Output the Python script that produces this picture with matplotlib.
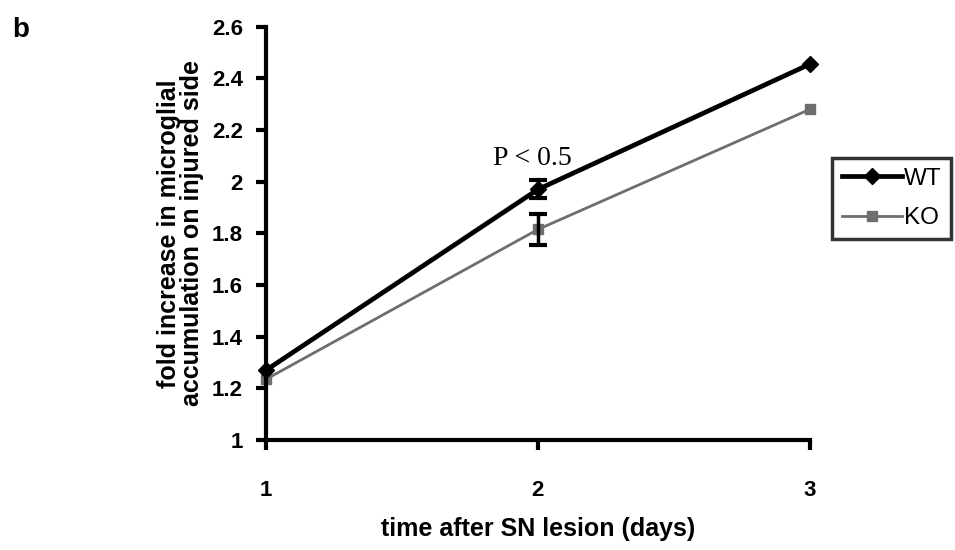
import matplotlib
matplotlib.use('Agg')
import matplotlib.pyplot as plt

# values
days = [1, 2, 3]
wt_fold = [1.27, 1.97, 2.455]
ko_fold = [1.235, 1.815, 2.28]
wt_err = [0, 0.035, 0]
ko_err = [0, 0.06, 0]
y_ticks = [1, 1.2, 1.4, 1.6, 1.8, 2, 2.2, 2.4, 2.6]
y_tick_labels = ['1', '1.2', '1.4', '1.6', '1.8', '2', '2.2', '2.4', '2.6']

plt.rcParams['font.family'] = ['Liberation Sans', 'DejaVu Sans']

fig = plt.figure(figsize=(9.55, 5.5), dpi=100)
ax = fig.add_axes([0.2785, 0.2, 0.5695, 0.7515])

grey = '#6e6e6e'
ax.plot(days, ko_fold, color=grey, lw=2, marker='s', ms=7.5,
        mfc=grey, mec=grey, label='KO', zorder=2)
ax.plot(days, wt_fold, color='black', lw=3.4, marker='D', ms=8,
        mfc='black', mec='black', label='WT', zorder=3)

# error bars only at day 2
ax.errorbar(days[1], wt_fold[1], yerr=wt_err[1], fmt='none', ecolor='black',
            elinewidth=2.5, capsize=6.5, capthick=3, zorder=4)
ax.errorbar(days[1], ko_fold[1], yerr=ko_err[1], fmt='none', ecolor='black',
            elinewidth=2.5, capsize=6.5, capthick=3, zorder=4)

ax.text(1.98, 2.065, 'P < 0.5', ha='center', va='baseline', fontsize=20,
        family=['Liberation Serif', 'DejaVu Serif'])

ax.set_xlim(1, 3)
ax.set_ylim(1, 2.6)
ax.set_xticks(days)
ax.set_xticklabels([str(d) for d in days])
ax.set_yticks(y_ticks)
ax.set_yticklabels(y_tick_labels)

for side in ['top', 'right']:
    ax.spines[side].set_visible(False)
for side in ['left', 'bottom']:
    ax.spines[side].set_linewidth(3)
ax.tick_params(axis='both', direction='out', length=7.5, width=3,
               labelsize=16, colors='black')
ax.tick_params(axis='x', pad=21)
ax.tick_params(axis='y', pad=9)
for lbl in ax.get_xticklabels() + ax.get_yticklabels():
    lbl.set_fontweight('bold')
ax.patch.set_visible(False)
for ln in ax.lines:
    ln.set_clip_on(False)

ax.set_xlabel('time after SN lesion (days)', fontsize=18, fontweight='bold',
              labelpad=12)
ax.set_ylabel('fold increase in microglial\naccumulation on injured side',
              fontsize=18, fontweight='bold', labelpad=6, linespacing=0.95)

handles, labels = ax.get_legend_handles_labels()
leg = fig.legend(handles[::-1], labels[::-1], loc='upper left',
                 bbox_to_anchor=(0.8715, 0.713), fontsize=17.5, frameon=True,
                 fancybox=False, edgecolor='black', handlelength=2.45,
                 handletextpad=0.1, borderpad=0.4, labelspacing=0.72,
                 borderaxespad=0)
leg.get_frame().set_linewidth(2.5)

fig.text(0.0126, 0.933, 'b', fontsize=20, fontweight='bold', va='baseline')

fig.savefig('out.png', dpi=100)
